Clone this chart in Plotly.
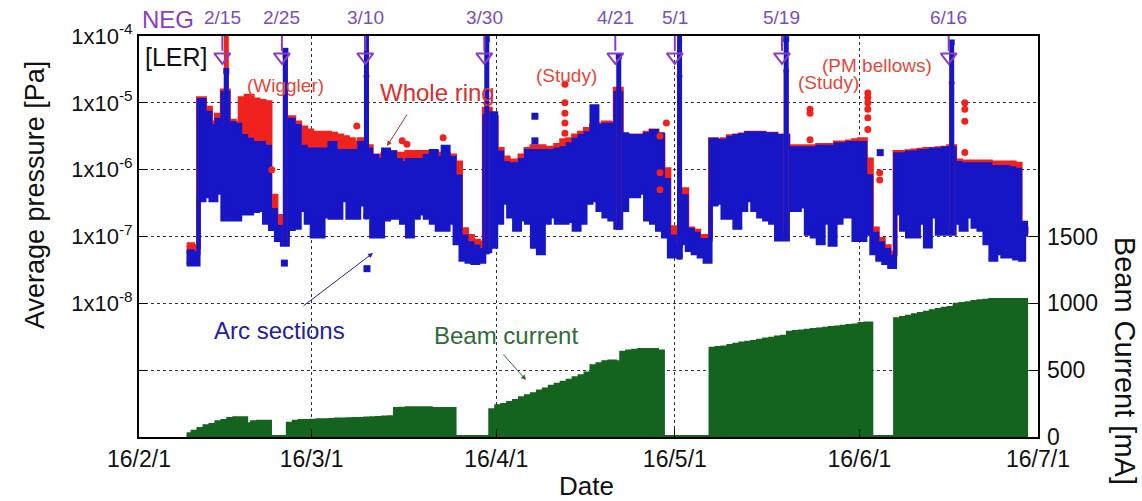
import plotly.graph_objects as go
import pandas as pd

# ---------------- data (daily, 2016-02-09 .. 2016-06-29) ----------------
first_day = "2016-02-09"

blue_high = [6e-8, 5.6e-8, 1.1e-5, 7.1e-6, 4.5e-6, 5.6e-6, 1.4e-5, 5e-6, 4.7e-6, 3.2e-6,
             2.8e-6, 2.5e-6, 2.5e-6, 2.2e-6, 2.5e-7, 1.4e-7, 1.1e-7, 5.6e-6, 4.5e-6, 2.2e-6,
             2e-6, 2e-6, 2e-6, 2e-6, 2.5e-6, 1.9e-6, 1.9e-6, 1.9e-6, 1.9e-6, 2.5e-6,
             2e-6, 1.6e-6, 1.4e-6, 2e-6, 1.8e-6, 1.4e-6, 1.26e-6, 1.4e-6, 1.4e-6, 1.4e-6,
             1.6e-6, 1.9e-6, 1.5e-6, 2.2e-6, 1.5e-6, 7.9e-7, 1e-7, 7.9e-8, 7.1e-8, 6.3e-8,
             6.3e-6, 7e-6, 1.8e-6, 1.26e-6, 1.2e-6, 1.2e-6, 1.4e-6, 1.9e-6, 1.9e-6, 1.9e-6,
             1.9e-6, 1.9e-6, 2e-6, 2.1e-6, 2.4e-6, 2.8e-6, 3.2e-6, 3.5e-6, 8.9e-6, 4.5e-6,
             4.7e-6, 4.7e-6, 1.4e-5, 3.4e-6, 3.2e-6, 3.2e-6, 3.2e-6, 3.4e-6, 3.8e-6, 3.4e-6,
             7e-7, 1e-7, 7.1e-8, 4e-7, 1.26e-7, 1.1e-7, 8.9e-8, 8.9e-8, 2.8e-6, 2.7e-6,
             2.7e-6, 3e-6, 3.2e-6, 3.3e-6, 3.5e-6, 3.5e-6, 3.5e-6, 3.4e-6, 3.4e-6, 3.2e-6,
             3.2e-6, 2.1e-6, 2.1e-6, 2.1e-6, 2.1e-6, 2.1e-6, 2.2e-6, 2.2e-6, 2.2e-6, 2.4e-6,
             2.4e-6, 2.5e-6, 2.5e-6, 2.5e-6, 8e-7, 1.1e-7, 7.9e-8, 6.3e-8, 5e-8, 1.7e-6,
             1.7e-6, 1.8e-6, 1.8e-6, 1.9e-6, 1.9e-6, 2e-6, 2e-6, 2.1e-6, 2.1e-6, 1.26e-6,
             1.2e-6, 1.2e-6, 1.2e-6, 1.2e-6, 1.2e-6, 1.1e-6, 1.1e-6, 1.1e-6, 1.05e-6, 1e-6,
             1.6e-7, 1e-7]

blue_low = [3.8e-8, 3.8e-8, 3.5e-7, 4e-7, 3.5e-7, 4.5e-7, 1.8e-7, 1.8e-7, 1.8e-7, 2.2e-7,
            2.2e-7, 2.4e-7, 2.5e-7, 1.6e-7, 1.3e-7, 8.9e-8, 7.5e-8, 1.3e-7, 1.35e-7, 2.5e-7,
            1.6e-7, 1e-7, 1e-7, 2e-7, 1.9e-7, 1.9e-7, 3.5e-7, 1.9e-7, 1.9e-7, 3e-7,
            2e-7, 1e-7, 1e-7, 1.8e-7, 1.9e-7, 1.9e-7, 1.6e-7, 1e-7, 1.9e-7, 2.2e-7,
            1.9e-7, 1.6e-7, 1.26e-7, 1.26e-7, 1.6e-7, 7.9e-8, 4.5e-8, 4.2e-8, 4e-8, 4.2e-8,
            6e-8, 7e-8, 1.6e-7, 3.2e-7, 2e-7, 1.26e-7, 1.8e-7, 1.6e-7, 7e-8, 5.6e-8,
            1.6e-7, 2e-7, 1.6e-7, 1.6e-7, 1.7e-7, 1.26e-7, 1.6e-7, 3.2e-7, 3.5e-7, 2.5e-7,
            2e-7, 1.8e-7, 1.35e-7, 2.5e-7, 4e-7, 4e-7, 4.5e-7, 1.8e-7, 1.6e-7, 1.26e-7,
            1e-7, 5e-8, 5e-8, 7.9e-8, 6.3e-8, 5.6e-8, 5e-8, 4.2e-8, 3e-7, 3.2e-7,
            1.9e-7, 1.9e-7, 1.35e-7, 2.5e-7, 3.5e-7, 2.5e-7, 2e-7, 1.8e-7, 1.6e-7, 9e-8,
            9e-8, 2.5e-7, 2.5e-7, 2.8e-7, 1.1e-7, 1e-7, 7.9e-8, 1.6e-7, 7.5e-8, 1.6e-7,
            2e-7, 2e-7, 8.9e-8, 8.9e-8, 1.1e-7, 5.6e-8, 4.5e-8, 4e-8, 3.5e-8, 2.2e-7,
            1.26e-7, 1e-7, 1e-7, 1.6e-7, 7.1e-8, 2e-7, 1.1e-7, 1.1e-7, 1.1e-7, 1.6e-7,
            1.26e-7, 2e-7, 1.4e-7, 1.26e-7, 7.9e-8, 4.5e-8, 5.6e-8, 5e-8, 5e-8, 4.7e-8,
            4.5e-8, 4.5e-8]

red_high = [7.5e-8, 7e-8, 1.15e-5, 8.3e-6, 5e-6, 6.5e-6, 1.5e-5, 5.3e-6, 5e-6, 1.15e-5,
            1.26e-5, 1.1e-5, 1.05e-5, 1e-5, 4e-7, 2e-7, 1.4e-7, 6e-6, 5e-6, 4.2e-6,
            3.8e-6, 3.5e-6, 3.5e-6, 3.5e-6, 3.4e-6, 3.2e-6, 3e-6, 2.8e-6, 2.5e-6, 2.8e-6,
            2.2e-6, 1.6e-6, 1.6e-6, 1.7e-6, 1.8e-6, 1.7e-6, 1.7e-6, 1.8e-6, 1.8e-6, 1.8e-6,
            1.8e-6, 1.8e-6, 1.7e-6, 1.7e-6, 1.6e-6, 1.26e-6, 1.26e-7, 1e-7, 8.5e-8, 8e-8,
            8e-6, 6e-6, 2e-6, 1.5e-6, 1.35e-6, 1.35e-6, 1.6e-6, 2e-6, 2.2e-6, 2.2e-6,
            2.1e-6, 2.1e-6, 2.3e-6, 2.7e-6, 2.8e-6, 3.2e-6, 3.5e-6, 4e-6, 4.5e-6, 4.7e-6,
            5e-6, 4.9e-6, 1.6e-5, 3.2e-6, 3.2e-6, 3.2e-6, 3.2e-6, 3.5e-6, 3.8e-6, 3.2e-6,
            1e-6, 1.35e-7, 9e-8, 5e-7, 1.3e-7, 1.2e-7, 1e-7, 1e-7, 2.8e-6, 2.7e-6,
            2.8e-6, 3.1e-6, 3.2e-6, 3.3e-6, 3.5e-6, 3.5e-6, 3.5e-6, 3.4e-6, 3.4e-6, 3.2e-6,
            3.2e-6, 2.2e-6, 2.2e-6, 2.2e-6, 2.2e-6, 2.2e-6, 2.3e-6, 2.3e-6, 2.3e-6, 2.5e-6,
            2.5e-6, 2.6e-6, 2.7e-6, 2.8e-6, 1.4e-6, 1.3e-7, 9e-8, 7e-8, 5.6e-8, 1.8e-6,
            1.8e-6, 1.85e-6, 1.9e-6, 1.95e-6, 2e-6, 2e-6, 2.05e-6, 2.1e-6, 2.2e-6, 1.35e-6,
            1.3e-6, 1.3e-6, 1.3e-6, 1.3e-6, 1.3e-6, 1.26e-6, 1.26e-6, 1.26e-6, 1.26e-6, 1.2e-6,
            1.3e-7, 1.1e-7]

beam_current = [20, 40, 60, 80, 90, 110, 120, 135, 140, 140,
                95, 110, 115, 115, 0, 0, 0, 100, 115, 120,
                120, 122, 125, 125, 128, 130, 130, 132, 135, 135,
                138, 140, 142, 145, 148, 210, 212, 215, 215, 215,
                215, 210, 210, 210, 210, 0, 0, 0, 0, 0,
                0, 200, 230, 240, 255, 270, 290, 305, 320, 340,
                355, 375, 390, 405, 420, 440, 455, 475, 530, 545,
                560, 565, 560, 630, 640, 645, 650, 650, 650, 640,
                0, 0, 0, 0, 0, 0, 0, 0, 660, 665,
                670, 680, 690, 700, 705, 710, 720, 730, 735, 745,
                750, 780, 785, 790, 795, 800, 805, 810, 815, 820,
                825, 830, 835, 845, 850, 0, 0, 0, 0, 880,
                890, 900, 910, 920, 930, 940, 950, 960, 965, 990,
                995, 1000, 1010, 1015, 1020, 1025, 1025, 1025, 1025, 1025,
                1025, 0]

# NEG activation / pressure spikes
spike_dates = ["2016-02-15 16:00", "2016-02-25 14:00", "2016-03-10 05:00", "2016-03-30 10:00",
               "2016-04-21 14:00", "2016-05-01 19:00", "2016-05-19 17:00", "2016-06-16 12:00"]
spike_base = [5e-6, 8e-8, 2e-7, 6e-8, 1.4e-7, 5e-8, 1e-7, 1.2e-7]
spike_blue_top = [3e-5, 6e-5, 1e-4, 9e-5, 5e-5, 1e-4, 9e-5, 8e-5]
spike_red_top = [1e-4, 5e-5, 2.5e-5, 8e-6, 1.6e-5, 2.5e-5, 3e-5, 2e-5]

red_out_dates = ["2016-02-23 07:00", "2016-03-08 14:00", "2016-03-16 05:00", "2016-03-17 00:00",
                 "2016-03-23 02:00",
                 "2016-04-12 13:00", "2016-04-12 13:00", "2016-04-12 13:00", "2016-04-12 13:00",
                 "2016-04-12 13:00",
                 "2016-04-28 12:00", "2016-04-28 12:00", "2016-04-28 12:00", "2016-04-29 14:00",
                 "2016-05-23 17:00", "2016-05-23 17:00", "2016-05-23 17:00",
                 "2016-06-02 10:00", "2016-06-02 10:00", "2016-06-02 10:00", "2016-06-02 10:00",
                 "2016-06-02 10:00", "2016-06-02 10:00",
                 "2016-06-04 10:00", "2016-06-04 10:00",
                 "2016-06-18 17:00", "2016-06-18 17:00", "2016-06-18 17:00", "2016-06-18 17:00"]
red_out_vals = [1e-6, 4.5e-6, 2.7e-6, 2.4e-6,
                3e-6,
                1.9e-5, 1e-5, 7e-6, 5e-6, 3.5e-6,
                3.2e-6, 9e-7, 5e-7, 5e-6,
                8e-6, 7e-6, 2.8e-6,
                1.4e-5, 1.2e-5, 1e-5, 8e-6, 6e-6, 4e-6,
                9e-7, 7e-7,
                1e-5, 8e-6, 5.3e-6, 1.8e-6]

blue_out_dates = ["2016-02-25 10:00", "2016-03-10 07:00", "2016-04-07 12:00", "2016-04-07 12:00",
                  "2016-06-04 12:00"]
blue_out_vals = [4e-8, 3.3e-8, 6.3e-6, 2.7e-6, 1.8e-6]

neg_dates = ["2016-02-15", "2016-02-25", "2016-03-10", "2016-03-30",
             "2016-04-21", "2016-05-01", "2016-05-19", "2016-06-16"]
neg_labels = ["2/15", "2/25", "3/10", "3/30", "4/21", "5/1", "5/19", "6/16"]

month_ticks = ["2016-02-01", "2016-03-01", "2016-04-01", "2016-05-01", "2016-06-01", "2016-07-01"]
month_labels = ["16/2/1", "16/3/1", "16/4/1", "16/5/1", "16/6/1", "16/7/1"]
p_ticks = [1e-9, 1e-8, 1e-7, 1e-6, 1e-5, 1e-4]
p_labels = ["", "1x10<sup>-8</sup>", "1x10<sup>-7</sup>", "1x10<sup>-6</sup>",
            "1x10<sup>-5</sup>", "1x10<sup>-4</sup>"]
i_ticks = [0, 500, 1000, 1500]

# ---------------- styling ----------------
BLUE = "#1616C6"
RED = "#F0221E"
GREEN = "#14631E"
PURPLE = "#8A3DC4"
FONT = "Arial, Liberation Sans, sans-serif"

dates = pd.date_range(first_day, periods=len(blue_high)).strftime("%Y-%m-%d").tolist()

fig = go.Figure()

# whole ring (red) band
fig.add_trace(go.Scatter(x=dates, y=blue_low, mode="lines", line=dict(shape="hv", width=0, color=RED),
                         showlegend=False, hoverinfo="skip"))
fig.add_trace(go.Scatter(x=dates, y=red_high, mode="lines", fill="tonexty", fillcolor=RED,
                         line=dict(shape="hv", width=5, color=RED), showlegend=False))
# arc sections (blue) band
fig.add_trace(go.Scatter(x=dates, y=blue_low, mode="lines", line=dict(shape="hv", width=4, color=BLUE),
                         showlegend=False, hoverinfo="skip"))
fig.add_trace(go.Scatter(x=dates, y=blue_high, mode="lines", fill="tonexty", fillcolor=BLUE,
                         line=dict(shape="hv", width=4, color=BLUE), showlegend=False))

# spikes
sx, sr, sb = [], [], []
for d, b, rt, bt in zip(spike_dates, spike_base, spike_red_top, spike_blue_top):
    sx += [d, d, None]
    sr += [b, rt, None]
    sb += [b, bt, None]
fig.add_trace(go.Scatter(x=sx, y=sr, mode="lines+markers", line=dict(color=RED, width=5),
                         marker=dict(color=RED, size=6), showlegend=False))
fig.add_trace(go.Scatter(x=sx, y=sb, mode="lines+markers", line=dict(color=BLUE, width=5),
                         marker=dict(color=BLUE, size=6, symbol="square"), showlegend=False))

# outliers
fig.add_trace(go.Scatter(x=red_out_dates, y=red_out_vals, mode="markers",
                         marker=dict(color=RED, size=7), showlegend=False))
fig.add_trace(go.Scatter(x=blue_out_dates, y=blue_out_vals, mode="markers",
                         marker=dict(color=BLUE, size=7, symbol="square"), showlegend=False))

# beam current
fig.add_trace(go.Scatter(x=dates, y=beam_current, yaxis="y2", mode="lines", fill="tozeroy",
                         fillcolor=GREEN, line=dict(shape="hv", width=4, color=GREEN),
                         showlegend=False))

# NEG arrows: head markers
fig.add_trace(go.Scatter(x=neg_dates, y=[4.86e-5] * len(neg_dates), mode="markers",
                         marker=dict(symbol="triangle-down-open", size=14,
                                     line=dict(color=PURPLE, width=2), color=PURPLE),
                         showlegend=False, cliponaxis=False))

shapes = []
for d in neg_dates:
    shapes.append(dict(type="line", xref="x", yref="paper", x0=d, x1=d, y0=1.0, y1=0.963,
                       line=dict(color=PURPLE, width=2)))


def note(x, y, text, size, color, xref="paper", **kw):
    d = dict(x=x, y=y, xref=xref, yref="paper", text=text, showarrow=False,
             xanchor="center", yanchor="middle", font=dict(size=size, color=color, family=FONT))
    d.update(kw)
    return d


annotations = []
for d, t in zip(neg_dates, neg_labels):
    annotations.append(note(d, 1.047, t, 19, "#7B4DBF", xref="x"))
annotations += [
    note(0.001, 1.042, "NEG", 24, PURPLE, xanchor="left"),
    note(0.0412, 0.9476, "[LER]", 25, "#111111"),
    note(0.1635, 0.8778, "(Wiggler)", 19, "#E04A3C"),
    note(0.3315, 0.8579, "Whole ring", 24, "#D9302A"),
    note(0.475, 0.9027, "(Study)", 19, "#E04A3C"),
    note(0.7675, 0.8828, "(Study)", 19, "#E04A3C"),
    note(0.8209, 0.9252, "(PM bellows)", 19, "#E04A3C"),
    note(0.1568, 0.2668, "Arc sections", 24, "#22229A"),
    note(0.4082, 0.2519, "Beam current", 24, "#2E6B37"),
    # axis titles
    note(-0.1157, 0.6035, "Average pressure [Pa]", 27, "#111111", textangle=-90),
    note(1.0968, 0.19, "Beam Current [mA]", 29, "#111111", textangle=90),
    note(0.4983, -0.121, "Date", 26, "#111111"),
    # pointer arrows
    dict(x=0.2759, y=0.7257, xref="paper", yref="paper", text="", showarrow=True, ax=21, ay=-33,
         arrowhead=2, arrowsize=1, arrowwidth=1, arrowcolor="#B03030"),
    dict(x=0.2603, y=0.4589, xref="paper", yref="paper", text="", showarrow=True, ax=-71, ay=54,
         arrowhead=2, arrowsize=1, arrowwidth=1, arrowcolor="#22229A"),
    dict(x=0.4305, y=0.1421, xref="paper", yref="paper", text="", showarrow=True, ax=-24, ay=-27,
         arrowhead=2, arrowsize=1, arrowwidth=1, arrowcolor="#2E6B37"),
]

grid = dict(showgrid=True, gridcolor="#333333", gridwidth=1, griddash="dot")

fig.update_layout(
    width=1142, height=501,
    margin=dict(l=139, r=104, t=36, b=64),
    paper_bgcolor="white", plot_bgcolor="white",
    font=dict(family=FONT, color="#111111"),
    showlegend=False,
    shapes=shapes,
    annotations=annotations,
    xaxis=dict(type="date", range=["2016-02-01", "2016-07-01"], tickmode="array",
               tickvals=month_ticks, ticktext=month_labels, tickfont=dict(size=23),
               showline=True, linecolor="black", linewidth=2, mirror=True,
               ticks="inside", ticklen=8, tickcolor="black", zeroline=False, **grid),
    yaxis=dict(type="log", range=[-10, -4], tickmode="array", tickvals=p_ticks, ticktext=p_labels,
               tickfont=dict(size=22), showline=True, linecolor="black", linewidth=2, mirror=True,
               ticks="inside", ticklen=8, tickcolor="black", zeroline=False, **grid),
    yaxis2=dict(overlaying="y", side="right", range=[0, 3000], tickmode="array", tickvals=i_ticks,
                tickfont=dict(size=23), showgrid=False, zeroline=False, showline=False,
                ticks="inside", ticklen=8, tickcolor="black", ticklabelstandoff=8),
)

fig.write_html("out.html")
